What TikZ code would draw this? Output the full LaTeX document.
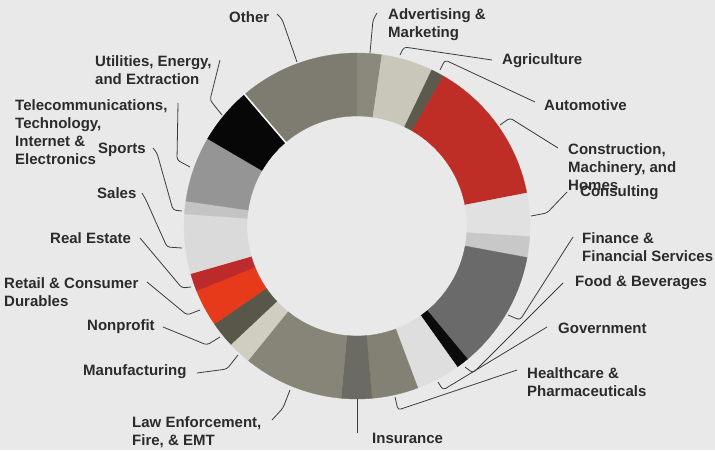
\documentclass[tikz,border=0pt]{standalone}
\usepackage{fontspec}
\setmainfont{Liberation Sans}
\definecolor{bg}{HTML}{E9E9E9}
\definecolor{txt}{HTML}{2B2B2B}
\definecolor{ldr}{HTML}{3C3C3C}
\definecolor{cOther}{HTML}{7E7C70}
\definecolor{cAdv}{HTML}{8A897C}
\definecolor{cAgri}{HTML}{C9C7B9}
\definecolor{cAuto}{HTML}{5B5A4D}
\definecolor{cCons}{HTML}{BF2D27}
\definecolor{cConsult}{HTML}{E1E1E1}
\definecolor{cUnl}{HTML}{C8C8C8}
\definecolor{cFin}{HTML}{6A6A6A}
\definecolor{cFood}{HTML}{0B0B0B}
\definecolor{cGov}{HTML}{DEDEDE}
\definecolor{cHealth}{HTML}{838174}
\definecolor{cIns}{HTML}{6C6B63}
\definecolor{cLaw}{HTML}{878578}
\definecolor{cManu}{HTML}{D0CEC0}
\definecolor{cNon}{HTML}{59574A}
\definecolor{cRetail}{HTML}{E63A1A}
\definecolor{cReal}{HTML}{BD2A2B}
\definecolor{cSales}{HTML}{DADADA}
\definecolor{cSports}{HTML}{C4C4C4}
\definecolor{cTel}{HTML}{959595}
\definecolor{cUtil}{HTML}{070707}
\begin{document}
\begin{tikzpicture}[x=1pt,y=-1pt,
  lbl/.style={font=\fontsize{15}{18}\selectfont\bfseries, text=txt, inner sep=0pt, align=left, anchor=west},
  leader/.style={draw=ldr, line width=0.8pt, rounded corners=3pt}]
\useasboundingbox (0,0) rectangle (715,450);
\fill[bg] (0,0) rectangle (715,450);
% donut
\begin{scope}[shift={(357,226)}, yscale=-1]
\foreach \a/\b/\c in {90/130.5/cOther, 81.7/90/cAdv, 64.4/81.7/cAgri, 60/64.4/cAuto,
  11/60/cCons, -3.5/11/cConsult, -10.5/-3.5/cUnl, -50.3/-10.5/cFin, -54.6/-50.3/cFood,
  -69.4/-54.6/cGov, -85/-69.4/cHealth, -95.3/-85/cIns, -129/-95.3/cLaw, -136.8/-129/cManu,
  -145.5/-136.8/cNon, -158/-145.5/cRetail, -164/-158/cReal, -184/-164/cSales,
  -188.3/-184/cSports, -210.3/-188.3/cTel, -229.5/-210.3/cUtil}{
  \fill[\c, draw=\c, line width=0.3pt] (\a:173) arc[start angle=\a, end angle=\b, radius=173]
    -- (\b:110) arc[start angle=\b, end angle=\a, radius=110] -- cycle;
}
\draw[white, line width=1.5pt] (130.5:109) -- (130.5:174);
\end{scope}
% labels
\node[lbl] (lOther) at (229,17) {Other};
\node[lbl] (lAdv) at (388,25) {Advertising \&\\Marketing};
\node[lbl] (lAgri) at (502,61) {Agriculture};
\node[lbl] (lAuto) at (544,105) {Automotive};
\node[lbl] (lCons) at (568,167) {Construction,\\Machinery, and\\Homes};
\node[lbl] (lConsult) at (580,193) {Consulting};
\node[lbl] (lFin) at (582,247.5) {Finance \&\\Financial Services};
\node[lbl] (lFood) at (575,283) {Food \& Beverages};
\node[lbl] (lGov) at (558,328) {Government};
\node[lbl] (lHealth) at (527,382) {Healthcare \&\\Pharmaceuticals};
\node[lbl] (lIns) at (372,438) {Insurance};
\node[lbl] (lLaw) at (132,432.5) {Law Enforcement,\\Fire, \& EMT};
\node[lbl] (lManu) at (83,372) {Manufacturing};
\node[lbl] (lNon) at (87,327) {Nonprofit};
\node[lbl] (lRetail) at (4,292.5) {Retail \& Consumer\\Durables};
\node[lbl] (lReal) at (50,238) {Real Estate};
\node[lbl] (lSales) at (97,193) {Sales};
\node[lbl] (lSports) at (98,150) {Sports};
\node[lbl] (lTel) at (15,132.5) {Telecommunications,\\Technology,\\Internet \&\\Electronics};
\node[lbl] (lUtil) at (95,70.5) {Utilities, Energy,\\and Extraction};
% leader ends (label side)
\coordinate (aOther) at (277,14);
\coordinate (aAdv) at (377,13);
\coordinate (aAgri) at (492,60);
\coordinate (aAuto) at (535,102);
\coordinate (aCons) at (558,148);
\coordinate (aConsult) at (567,192);
\coordinate (aFin) at (573,237);
\coordinate (aFood) at (563,283);
\coordinate (aGov) at (547,327);
\coordinate (aHealth) at (517,370);
\coordinate (aIns) at (357,433);
\coordinate (aLaw) at (272,420);
\coordinate (aManu) at (197,373);
\coordinate (aNon) at (163,327);
\coordinate (aRetail) at (147,282);
\coordinate (aReal) at (140,238);
\coordinate (aSales) at (142,193);
\coordinate (aSports) at (153,148);
\coordinate (aTel) at (178,103);
\coordinate (aUtil) at (220,60);
% leader ends (ring side)
\coordinate (rOther) at (297,62);
\coordinate (rAdv) at (370,53);
\coordinate (rAgri) at (400,55);
\coordinate (rAuto) at (440,70);
\coordinate (rCons) at (500,125);
\coordinate (rConsult) at (531,216);
\coordinate (rFin) at (508,315);
\coordinate (rFood) at (465,367);
\coordinate (rGov) at (438,382);
\coordinate (rHealth) at (395,397);
\coordinate (rIns) at (357,399);
\coordinate (rLaw) at (290,390);
\coordinate (rManu) at (238,355);
\coordinate (rNon) at (220,337);
\coordinate (rRetail) at (200,310);
\coordinate (rReal) at (191,287);
\coordinate (rSales) at (182,248);
\coordinate (rSports) at (182,211);
\coordinate (rTel) at (190,167);
\coordinate (rUtil) at (222,115);
% leaders
\draw[leader] (aOther) -- (282,19) -- (rOther);
\draw[leader] (aAdv) -- (373,20) -- (rAdv);
\draw[leader] (aAgri) -- (404,47) -- (rAgri);
\draw[leader] (aAuto) -- (445,60) -- (rAuto);
\draw[leader] (aCons) -- (510,118) -- (rCons);
\draw[leader] (aConsult) -- (547,213) -- (rConsult);
\draw[leader] (aFin) -- (520,320) -- (rFin);
\draw[leader] (aFood) -- (473,373) -- (rFood);
\draw[leader] (aGov) -- (443,390) -- (rGov);
\draw[leader] (aHealth) -- (398,410) -- (rHealth);
\draw[leader] (aIns) -- (rIns);
\draw[leader] (aLaw) -- (283,408) -- (rLaw);
\draw[leader] (aManu) -- (227,369) -- (rManu);
\draw[leader] (aNon) -- (207,345) -- (rNon);
\draw[leader] (aRetail) -- (187,315) -- (rRetail);
\draw[leader] (aReal) -- (182,288) -- (rReal);
\draw[leader] (aSales) -- (146,200) -- (167,247) -- (rSales);
\draw[leader] (aSports) -- (157,153) -- (173,210) -- (rSports);
\draw[leader] (aTel) -- (177,160) -- (rTel);
\draw[leader] (aUtil) -- (210,100) -- (rUtil);
\end{tikzpicture}
\end{document}
